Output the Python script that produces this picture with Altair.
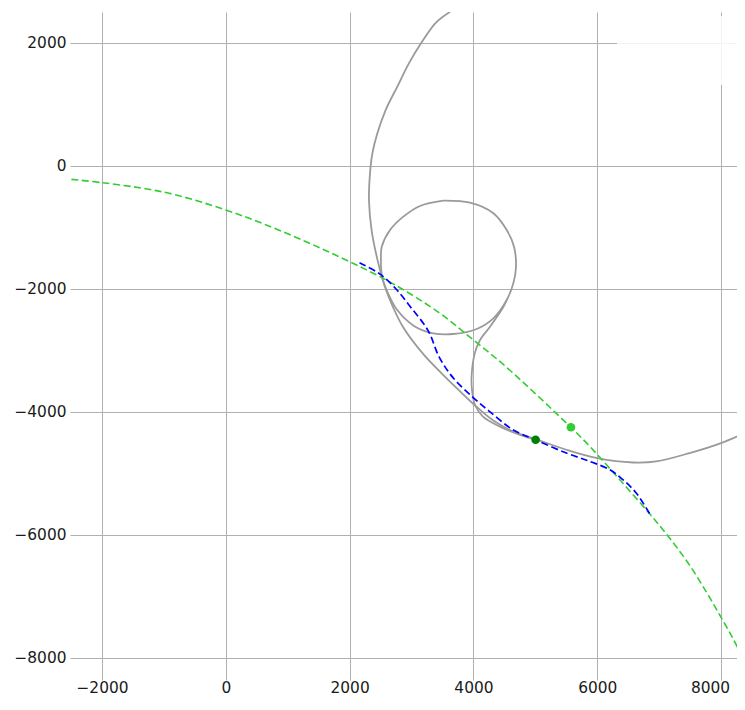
import altair as alt
import pandas as pd

# ---------------- data ----------------
x_ticks = [-2000, 0, 2000, 4000, 6000, 8000]
y_ticks = [-8000, -6000, -4000, -2000, 0, 2000]

# green dashed conic
green_x = [-2495, -2000, -1338, -800, 0, 654, 1354, 2000, 2690, 3445, 4000, 4523,
           5572, 5884, 6365, 6847, 7169, 7491, 7759, 7973, 8188, 8375]
green_y = [-217, -271, -363, -472, -715, -959, -1257, -1556, -1908, -2385, -2830, -3262,
           -4248, -4564, -5103, -5655, -6050, -6490, -6920, -7290, -7675, -8045]

# blue dashed path
blue_x = [2160, 2480, 2750, 2990, 3270, 3445, 3660, 3984, 4253, 4645, 5003, 5501,
          5882, 6204, 6418, 6633, 6874]
blue_y = [-1572, -1750, -2000, -2300, -2680, -3103, -3429, -3755, -3985, -4293, -4452, -4668,
          -4804, -4940, -5103, -5321, -5701]

# gray trajectory: outer arc
outer_x = [3623, 3391, 3175, 2960, 2771, 2582, 2447, 2367, 2329, 2313, 2355, 2464,
           2572, 2701, 2863, 3191, 3514, 3800, 4000, 4322, 4645, 5003, 5501, 6000,
           6579, 6954, 7491, 8000, 8400]
outer_y = [2507, 2327, 2027, 1673, 1292, 910, 529, 202, -125, -561, -1041, -1583,
           -1967, -2293, -2618, -3060, -3400, -3680, -3870, -4140, -4320, -4440, -4614, -4750,
           -4821, -4804, -4668, -4505, -4335]

# gray trajectory: loop
loop_x = [3514, 3945, 4322, 4538, 4656, 4688, 4645, 4538, 4322, 4053, 3675, 3352,
          3040, 2760, 2620, 2525, 2505, 2519, 2653, 2868, 3137, 3514]
loop_y = [-564, -597, -769, -1041, -1312, -1637, -1908, -2179, -2477, -2650, -2732, -2720,
          -2600, -2330, -2070, -1800, -1500, -1312, -1041, -824, -650, -564]

# gray trajectory: tail joining loop and arc
tail_x = [4538, 4483, 4268, 4107, 4023, 3972, 3977, 4026, 4155, 4430, 4753, 5011]
tail_y = [-2179, -2293, -2613, -2829, -3041, -3398, -3642, -3886, -4076, -4239, -4374, -4455]

# markers
light_pt_x, light_pt_y = [5575], [-4248]
dark_pt_x, dark_pt_y = [5005], [-4452]


def frame(xs, ys, name):
    return pd.DataFrame({"x": xs, "y": ys, "i": list(range(len(xs))), "s": name})


xs = alt.Scale(domain=[-2517, 8258], nice=False, zero=False)
ys = alt.Scale(domain=[-8358, 2504], nice=False, zero=False)

X = alt.X("x:Q", scale=xs, title=None,
          axis=alt.Axis(values=x_ticks, format="d", labelPadding=0,
                        labelOffset={"condition": {"test": "datum.value === 8000", "value": -11},
                                     "value": 0}))
Y = alt.Y("y:Q", scale=ys, title=None,
          axis=alt.Axis(values=y_ticks, format="d", labelPadding=4))

gray_df = pd.concat([frame(outer_x, outer_y, "outer"),
                     frame(loop_x, loop_y, "loop"),
                     frame(tail_x, tail_y, "tail")])

gray = alt.Chart(gray_df).mark_line(
    color="#9a9a9a", strokeWidth=1.8, interpolate="catmull-rom", clip=True
).encode(x=X, y=Y, detail="s:N", order="i:Q")

green = alt.Chart(frame(green_x, green_y, "g")).mark_line(
    color="#32cd32", strokeWidth=1.6, strokeDash=[7, 3.5], interpolate="catmull-rom", clip=True
).encode(x=X, y=Y, order="i:Q")

blue = alt.Chart(frame(blue_x, blue_y, "b")).mark_line(
    color="#0000ff", strokeWidth=1.7, strokeDash=[7, 3.5], interpolate="catmull-rom", clip=True
).encode(x=X, y=Y, order="i:Q")

light_pt = alt.Chart(frame(light_pt_x, light_pt_y, "p1")).mark_circle(
    color="#32cd32", size=75, opacity=1
).encode(x=X, y=Y)

dark_pt = alt.Chart(frame(dark_pt_x, dark_pt_y, "p2")).mark_circle(
    color="#008000", size=75, opacity=1
).encode(x=X, y=Y)

legend_box = alt.Chart(pd.DataFrame({"a": [0]})).mark_rect(
    fill="white", opacity=0.85, cornerRadius=4
).encode(x=alt.value(547), x2=alt.value(690), y=alt.value(4), y2=alt.value(73))

chart = alt.layer(gray, green, blue, light_pt, dark_pt, legend_box).properties(
    width=667, height=668,
    autosize=alt.AutoSizeParams(type="none"),
    padding={"left": 62, "top": 4, "right": 0, "bottom": 20},
).configure_view(
    stroke="transparent"
).configure_axis(
    domain=False, ticks=False, grid=True, gridColor="#b0b0b0", gridWidth=1,
    labelFont="DejaVu Sans", labelFontSize=15.4, labelColor="#1a1a1a",
).configure_axisY(
    labelAlign="right"
)

chart.save("out.html", embed_options={"renderer": "svg", "actions": False})
